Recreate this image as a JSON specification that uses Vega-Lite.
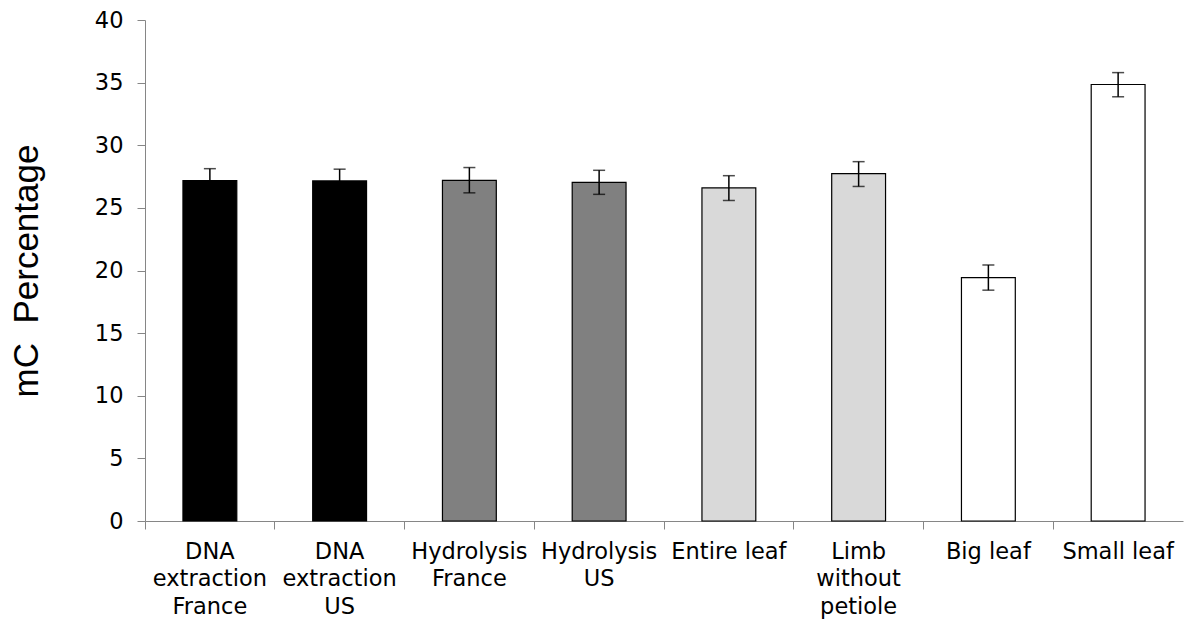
{
  "$schema": "https://vega.github.io/schema/vega-lite/v6.json",
  "width": 1038,
  "height": 501,
  "autosize": "none",
  "padding": {"left": 145, "top": 20, "right": 12, "bottom": 110},
  "background": "white",
  "config": {"view": {"stroke": null}, "font": "DejaVu Sans"},
  "data": {
    "values": [
      {"cat": "DNA\nextraction\nFrance", "value": 27.17, "lo": 26.21, "hi": 28.13, "group": "DNA"},
      {"cat": "DNA\nextraction\nUS", "value": 27.15, "lo": 26.21, "hi": 28.09, "group": "DNA"},
      {"cat": "Hydrolysis\nFrance", "value": 27.2, "lo": 26.2, "hi": 28.22, "group": "Hydrolysis"},
      {"cat": "Hydrolysis\nUS", "value": 27.04, "lo": 26.08, "hi": 28.0, "group": "Hydrolysis"},
      {"cat": "Entire leaf", "value": 26.59, "lo": 25.59, "hi": 27.57, "group": "Leaf"},
      {"cat": "Limb\nwithout\npetiole", "value": 27.73, "lo": 26.71, "hi": 28.69, "group": "Leaf"},
      {"cat": "Big leaf", "value": 19.43, "lo": 18.43, "hi": 20.44, "group": "Size"},
      {"cat": "Small leaf", "value": 34.85, "lo": 33.87, "hi": 35.8, "group": "Size"}
    ]
  },
  "encoding": {
    "x": {
      "field": "cat",
      "type": "nominal",
      "sort": null,
      "scale": {"paddingInner": 0, "paddingOuter": 0},
      "axis": {
        "title": null,
        "labelAngle": 0,
        "labelExpr": "split(datum.label, '\\n')",
        "labelFontSize": 22.5,
        "labelLineHeight": 27.5,
        "labelColor": "black",
        "labelLimit": 300,
        "labelPadding": 11,
        "bandPosition": 0,
        "tickSize": 8,
        "tickColor": "#868686",
        "domainColor": "#868686",
        "labelFont": "DejaVu Sans"
      }
    }
  },
  "layer": [
    {
      "mark": {"type": "bar", "width": {"band": 0.415}, "stroke": "black", "strokeWidth": 1.2},
      "encoding": {
        "y": {
          "field": "value",
          "type": "quantitative",
          "scale": {"domain": [0, 40]},
          "axis": {
            "values": [0, 5, 10, 15, 20, 25, 30, 35, 40],
            "grid": false,
            "title": "mC\u00a0 Percentage",
            "titleFont": "Liberation Sans",
            "titleFontSize": 35,
            "titleFontWeight": "normal",
            "titleColor": "black",
            "titleX": -108,
            "titleBaseline": "alphabetic",
            "labelFontSize": 22.5,
            "labelColor": "black",
            "labelPadding": 14,
            "tickSize": 8,
            "tickColor": "#868686",
            "domainColor": "#868686"
          }
        },
        "fill": {
          "field": "group",
          "type": "nominal",
          "scale": {"domain": ["DNA", "Hydrolysis", "Leaf", "Size"], "range": ["#000000", "#808080", "#d9d9d9", "#ffffff"]},
          "legend": null
        }
      }
    },
    {
      "mark": {"type": "rule", "color": "black", "strokeWidth": 1.5},
      "encoding": {
        "y": {"field": "lo", "type": "quantitative"},
        "y2": {"field": "hi"}
      }
    },
    {
      "mark": {"type": "tick", "color": "black", "size": 12, "thickness": 1.5},
      "encoding": {"y": {"field": "hi", "type": "quantitative"}}
    },
    {
      "mark": {"type": "tick", "color": "black", "size": 12, "thickness": 1.5},
      "encoding": {"y": {"field": "lo", "type": "quantitative"}}
    }
  ]
}
